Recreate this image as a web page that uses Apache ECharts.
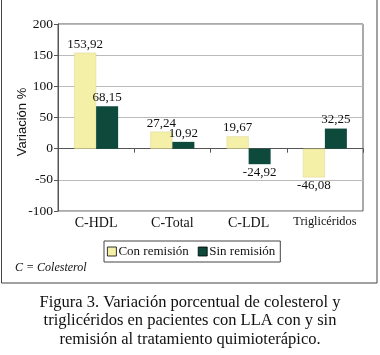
<!DOCTYPE html>
<html><head><meta charset="utf-8">
<script src="https://cdn.jsdelivr.net/npm/echarts@6/dist/echarts.min.js"></script>
<style>html,body{margin:0;padding:0;background:#fff}#c{width:380px;height:355px}</style>
</head><body><div id="c"></div>
<script>
const categories = ['C-HDL', 'C-Total', 'C-LDL', 'Triglicéridos'];
const conRemision = [153.92, 27.24, 19.67, -46.08];
const sinRemision = [68.15, 10.92, -24.92, 32.25];
const seriesNames = ['Con remisión', 'Sin remisión'];
const yName = 'Variación %';
const note = 'C = Colesterol';
const captionLines = [
  'Figura 3. Variación porcentual de colesterol y',
  'triglicéridos en pacientes con LLA con y sin',
  'remisión al tratamiento quimioterápico.'
];

const serif = '"Liberation Serif", "DejaVu Serif", serif';
const sans = '"Liberation Sans", Arial, sans-serif';
const fmt = v => v.toFixed(2).replace('.', ',');
const mk = arr => arr.map(v => ({value: v, label: {position: v < 0 ? 'bottom' : 'top'}}));
const catItems = categories.map(c => c.length > 8 ? {value: c, textStyle: {fontSize: 12.3}} : c);

const chart = echarts.init(document.getElementById('c'), null, {renderer: 'canvas'});
chart.setOption({
  animation: false,
  backgroundColor: '#fff',
  grid: {left: 58, right: 17, top: 24, bottom: 144, show: true, borderColor: '#555', borderWidth: 1, backgroundColor: '#fff'},
  legend: {
    data: seriesNames, orient: 'horizontal', left: 104, top: 241,
    padding: [4, 5, 4, 3], itemGap: 9,
    borderColor: '#444', borderWidth: 1, backgroundColor: '#fff',
    itemWidth: 9, itemHeight: 9, icon: 'rect',
    itemStyle: {borderColor: '#000', borderWidth: 0.8},
    textStyle: {fontFamily: serif, fontSize: 13, color: '#111', padding: [1, 0, 0, -3]}
  },
  xAxis: [{
    type: 'category', data: categories,
    axisLine: {onZero: true, lineStyle: {color: '#555', width: 1}},
    axisTick: {show: true, length: 4, interval: 0, lineStyle: {color: '#555'}},
    axisLabel: {show: false}
  }, {
    type: 'category', data: catItems, position: 'bottom',
    axisLine: {show: false}, axisTick: {show: false},
    axisLabel: {fontFamily: serif, fontSize: 14, color: '#111', margin: 5, interval: 0}
  }],
  yAxis: {
    type: 'value', min: -100, max: 200, interval: 50,
    axisLine: {show: true, lineStyle: {color: '#555'}},
    axisTick: {show: true, length: 4, lineStyle: {color: '#555'}},
    axisLabel: {fontFamily: serif, fontSize: 13.5, color: '#111', margin: 5},
    splitLine: {show: true, lineStyle: {color: '#bbb', width: 1}}
  },
  series: [{
    name: seriesNames[0], type: 'bar', data: mk(conRemision), barWidth: 22, barGap: '0%',
    itemStyle: {color: '#f5f0a8', borderColor: '#d8d48e', borderWidth: 0.5},
    label: {show: true, formatter: p => fmt(p.value), fontFamily: serif, fontSize: 13, color: '#111', distance: 2}
  }, {
    name: seriesNames[1], type: 'bar', data: mk(sinRemision), barWidth: 22,
    itemStyle: {color: '#0e4a3c'},
    label: {show: true, formatter: p => fmt(p.value), fontFamily: serif, fontSize: 13, color: '#111', distance: 2}
  }],
  graphic: [
    {type: 'rect', shape: {x: 1.5, y: -1, width: 375.5, height: 284}, style: {fill: null, stroke: '#444', lineWidth: 1}, silent: true},
    {type: 'text', x: 22, y: 122, rotation: Math.PI / 2, style: {text: yName, font: '13px ' + sans, fill: '#111', textAlign: 'center', textVerticalAlign: 'middle'}},
    {type: 'text', left: 15, top: 262, style: {text: note, font: 'italic 12px ' + serif, fill: '#111'}},
    {type: 'text', left: 'center', top: 293, style: {text: captionLines.join('\n'), font: '16.5px ' + serif, fill: '#111', textAlign: 'center', lineHeight: 18.5}}
  ]
});
</script></body></html>
